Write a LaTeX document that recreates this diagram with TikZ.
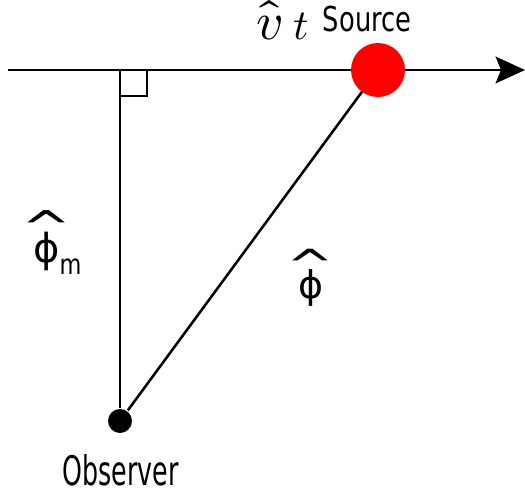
\documentclass[tikz,border=0pt]{standalone}
\usepackage{fontspec}
\usepackage{unicode-math}
\usepackage{graphicx}
\setmainfont{DejaVu Sans}
\setmathfont{Latin Modern Math}
\usetikzlibrary{arrows.meta}
\newcommand{\hatphi}{\ooalign{ϕ\cr\hidewidth\raisebox{0.46em}{\scalebox{1.5}[1.13]{\textasciicircum}}\hidewidth\cr}}
\newcommand{\hatv}{\ooalign{$v$\cr\hidewidth$\hat{\vphantom{v}}$\hidewidth\cr}}

\begin{document}
\begin{tikzpicture}[x=0.75pt,y=-0.75pt,line width=1.9pt,
  lbl/.style={inner sep=0pt,anchor=base west}]
\useasboundingbox (0,0) rectangle (525,489);
%Points de la figure
\coordinate (L) at (8,70);
\coordinate (R) at (525,70);
\coordinate (F) at (120,70);
\coordinate (Sc) at (378,70);
\node[circle,fill=black,inner sep=0pt,minimum size=18pt] (O) at (120,421) {};
%Lignes
\draw[-{Stealth[length=22pt,width=20pt,inset=4pt]}] (L) -- (R);
\draw (O) -- (F);
\draw[line width=1.5pt] (120,96) -| (147,70);
\draw (O) -- (Sc);
\node[circle,fill=red,inner sep=0pt,minimum size=40.5pt] (S) at (Sc) {};
%Textes
\node[lbl,font=\fontsize{25.7}{30}\selectfont,xscale=0.75] (srclbl) at (322,31.7) {Source};
\node[lbl,font=\fontsize{30.6}{36}\selectfont,xscale=0.62] (obslbl) at (62,485) {Observer};
\node[lbl] (vt) at (255,39.5) {{\fontsize{40}{40}\selectfont\hatv}\hspace{8pt}{\fontsize{32}{32}\selectfont$t$}};
\node[lbl,font=\fontsize{28.5}{34}\selectfont] (phi) at (297,298) {\hatphi};
\node[lbl,font=\fontsize{30}{36}\selectfont] (phim) at (32,262) {\hatphi\raisebox{-9pt}{\fontsize{21}{24}\selectfont\scalebox{0.8}[1]{m}}};
\end{tikzpicture}
\end{document}
